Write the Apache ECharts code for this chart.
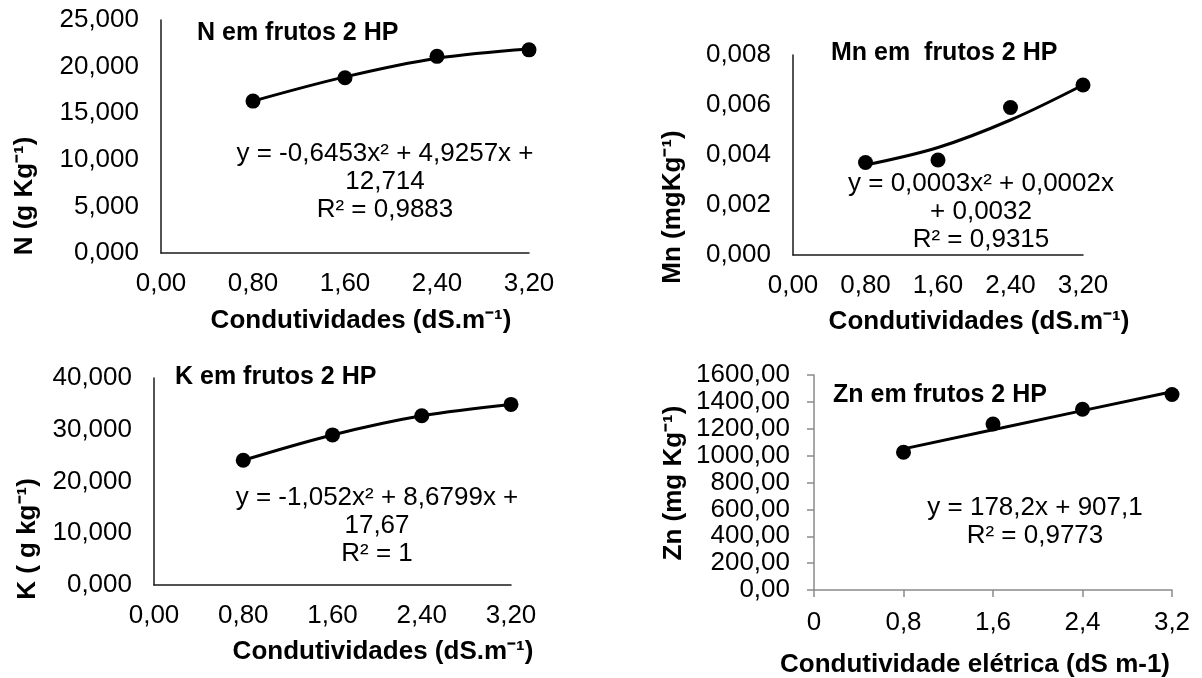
<!DOCTYPE html>
<html>
<head>
<meta charset="utf-8">
<script src="https://cdn.jsdelivr.net/npm/echarts@6/dist/echarts.min.js"></script>
<style>
html,body{margin:0;padding:0;background:#fff;}
#c{width:1202px;height:678px;}
</style>
</head>
<body>
<div id="c"></div>
<script>
// ---- data ----
const condX = [0.8, 1.6, 2.4, 3.2];
const nVals = [16.3, 18.8, 21.1, 21.8];
const nTrend = [16.3, 18.9, 20.9, 21.9];
const mnVals = [0.0037, 0.0038, 0.0059, 0.0068];
const mnTrend = [0.0036, 0.0043, 0.0054, 0.0068];
const kVals = [24.1, 29.0, 32.7, 34.9];
const kTrend = [24.1, 29.0, 32.7, 34.9];
const znVals = [1025, 1235, 1345, 1455];
const znTrend = [1050, 1192, 1335, 1475];

const titles = ['N em frutos 2 HP', 'Mn em  frutos 2 HP', 'K em frutos 2 HP', 'Zn em frutos 2 HP'];
const yTitles = ['N (g Kg\u207B\u00B9)', 'Mn (mgKg\u207B\u00B9)', 'K ( g kg\u207B\u00B9)', 'Zn (mg Kg\u207B\u00B9)'];
const xTitles = ['Condutividades (dS.m\u207B\u00B9)', 'Condutividades (dS.m\u207B\u00B9)', 'Condutividades (dS.m\u207B\u00B9)', 'Condutividade el\u00E9trica (dS m-1)'];
const equations = [
  'y = -0,6453x\u00B2 + 4,9257x +\n12,714\nR\u00B2 = 0,9883',
  'y = 0,0003x\u00B2 + 0,0002x\n+ 0,0032\nR\u00B2 = 0,9315',
  'y = -1,052x\u00B2 + 8,6799x +\n17,67\nR\u00B2 = 1',
  'y = 178,2x + 907,1\nR\u00B2 = 0,9773'
];
const yRanges = [[0, 25, 5], [0, 0.008, 0.002], [0, 40, 10], [0, 1600, 200]];
const yDecimals = [3, 3, 3, 2];

const FONT = '"Liberation Sans", Arial, sans-serif';
const pairs = (xs, ys) => xs.map((x, i) => [x, ys[i]]);
const comma = s => s.replace('.', ',');

const grids = [
  {left: 161, top: 20, width: 368, height: 233},
  {left: 793, top: 55, width: 290, height: 200},
  {left: 154, top: 378, width: 357, height: 207},
  {left: 814, top: 375, width: 358, height: 215}
];

const xAxes = grids.map((g, i) => {
  const gray = i === 3;
  return {
    type: 'value', gridIndex: i, min: 0, max: 3.2, interval: 0.8,
    axisLine: {show: true, onZero: false, lineStyle: {color: gray ? '#8a8a8a' : '#1a1a1a', width: 1.5}},
    axisTick: {show: gray, length: 7, lineStyle: {color: '#8a8a8a', width: 1.5}},
    splitLine: {show: false},
    axisLabel: {
      color: '#000', fontFamily: FONT, fontSize: 26, margin: gray ? 20 : 18,
      formatter: v => gray ? comma(String(parseFloat(v.toFixed(1)))) : comma(v.toFixed(2))
    }
  };
});

const yAxes = grids.map((g, i) => {
  const gray = i === 3;
  return {
    type: 'value', gridIndex: i, min: yRanges[i][0], max: yRanges[i][1], interval: yRanges[i][2],
    axisLine: {show: true, onZero: false, lineStyle: {color: gray ? '#8a8a8a' : '#1a1a1a', width: 1.5}},
    axisTick: {show: gray, length: 7, lineStyle: {color: '#8a8a8a', width: 1.5}},
    splitLine: {show: false},
    axisLabel: {
      color: '#000', fontFamily: FONT, fontSize: 26, margin: gray ? 24 : 22,
      formatter: v => comma(v.toFixed(yDecimals[i]))
    }
  };
});

const valueSets = [nVals, mnVals, kVals, znVals];
const trendSets = [nTrend, mnTrend, kTrend, znTrend];
const series = [];
for (let i = 0; i < 4; i++) {
  series.push({
    type: 'line', xAxisIndex: i, yAxisIndex: i, data: pairs(condX, trendSets[i]),
    smooth: i === 3 ? false : 0.35, showSymbol: false, symbol: 'none',
    lineStyle: {color: '#000', width: 3}, z: 2, silent: true
  });
  series.push({
    type: 'scatter', xAxisIndex: i, yAxisIndex: i, data: pairs(condX, valueSets[i]),
    symbol: 'circle', symbolSize: 15, itemStyle: {color: '#000', opacity: 1}, z: 3, silent: true
  });
}

// text positions
const titlePos = [[197, 33], [831, 53], [175, 377], [833, 395]];
const yTitlePos = [[25, 196], [673, 207], [28, 539], [674, 483]];
const xTitlePos = [[361, 321], [979, 322], [383, 652], [975, 665]];
const eqPos = [[385, 182], [981, 212], [377, 526], [1035, 522]];

const graphic = [];
for (let i = 0; i < 4; i++) {
  graphic.push({type: 'text', x: titlePos[i][0], y: titlePos[i][1], z: 10,
    style: {text: titles[i], fill: '#000', font: 'bold 25px ' + FONT, textAlign: 'left', textVerticalAlign: 'middle'}});
  graphic.push({type: 'text', x: yTitlePos[i][0], y: yTitlePos[i][1], rotation: Math.PI / 2, z: 10,
    style: {text: yTitles[i], fill: '#000', font: 'bold 26px ' + FONT, textAlign: 'center', textVerticalAlign: 'middle'}});
  graphic.push({type: 'text', x: xTitlePos[i][0], y: xTitlePos[i][1], z: 10,
    style: {text: xTitles[i], fill: '#000', font: 'bold 26px ' + FONT, textAlign: 'center', textVerticalAlign: 'middle'}});
  graphic.push({type: 'text', x: eqPos[i][0], y: eqPos[i][1], z: 10,
    style: {text: equations[i], fill: '#000', font: '26px ' + FONT, lineHeight: 28, textAlign: 'center', textVerticalAlign: 'middle'}});
}

const chart = echarts.init(document.getElementById('c'), null, {renderer: 'canvas'});
chart.setOption({
  backgroundColor: '#fff',
  animation: false,
  grid: grids.map(g => Object.assign({containLabel: false}, g)),
  xAxis: xAxes,
  yAxis: yAxes,
  series: series,
  graphic: graphic
});
</script>
</body>
</html>
